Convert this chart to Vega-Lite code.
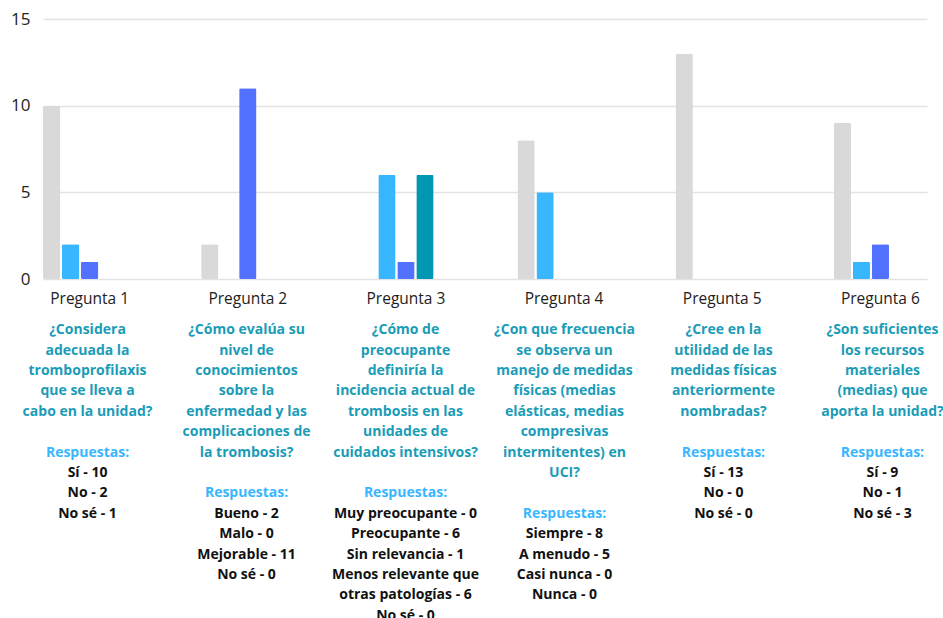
{
  "$schema": "https://vega.github.io/schema/vega-lite/v6.json",
  "padding": {"left": 10, "top": 10, "right": 0, "bottom": 0},
  "background": "white",
  "config": {"view": {"stroke": null}, "font": "Open Sans"},
  "spacing": 13,
  "resolve": {"scale": {"x": "independent", "color": "independent"}},
  "datasets": {
    "barras": [
      {"pregunta": "Pregunta 1", "opcion": "Opción 1", "valor": 10},
      {"pregunta": "Pregunta 1", "opcion": "Opción 2", "valor": 2},
      {"pregunta": "Pregunta 1", "opcion": "Opción 3", "valor": 1},
      {"pregunta": "Pregunta 2", "opcion": "Opción 1", "valor": 2},
      {"pregunta": "Pregunta 2", "opcion": "Opción 2", "valor": 0},
      {"pregunta": "Pregunta 2", "opcion": "Opción 3", "valor": 11},
      {"pregunta": "Pregunta 2", "opcion": "Opción 4", "valor": 0},
      {"pregunta": "Pregunta 3", "opcion": "Opción 1", "valor": 0},
      {"pregunta": "Pregunta 3", "opcion": "Opción 2", "valor": 6},
      {"pregunta": "Pregunta 3", "opcion": "Opción 3", "valor": 1},
      {"pregunta": "Pregunta 3", "opcion": "Opción 4", "valor": 6},
      {"pregunta": "Pregunta 3", "opcion": "Opción 5", "valor": 0},
      {"pregunta": "Pregunta 4", "opcion": "Opción 1", "valor": 8},
      {"pregunta": "Pregunta 4", "opcion": "Opción 2", "valor": 5},
      {"pregunta": "Pregunta 4", "opcion": "Opción 3", "valor": 0},
      {"pregunta": "Pregunta 4", "opcion": "Opción 4", "valor": 0},
      {"pregunta": "Pregunta 5", "opcion": "Opción 1", "valor": 13},
      {"pregunta": "Pregunta 5", "opcion": "Opción 2", "valor": 0},
      {"pregunta": "Pregunta 5", "opcion": "Opción 3", "valor": 0},
      {"pregunta": "Pregunta 6", "opcion": "Opción 1", "valor": 9},
      {"pregunta": "Pregunta 6", "opcion": "Opción 2", "valor": 1},
      {"pregunta": "Pregunta 6", "opcion": "Opción 3", "valor": 2}
    ],
    "textos": [
      {"pregunta": "Pregunta 1", "linea": 0, "tipo": "pregunta", "texto": "¿Considera"},
      {"pregunta": "Pregunta 1", "linea": 1, "tipo": "pregunta", "texto": "adecuada la"},
      {"pregunta": "Pregunta 1", "linea": 2, "tipo": "pregunta", "texto": "tromboprofilaxis"},
      {"pregunta": "Pregunta 1", "linea": 3, "tipo": "pregunta", "texto": "que se lleva a"},
      {"pregunta": "Pregunta 1", "linea": 4, "tipo": "pregunta", "texto": "cabo en la unidad?"},
      {"pregunta": "Pregunta 1", "linea": 6, "tipo": "encabezado", "texto": "Respuestas:"},
      {"pregunta": "Pregunta 1", "linea": 7, "tipo": "respuesta", "texto": "Sí - 10"},
      {"pregunta": "Pregunta 1", "linea": 8, "tipo": "respuesta", "texto": "No - 2"},
      {"pregunta": "Pregunta 1", "linea": 9, "tipo": "respuesta", "texto": "No sé - 1"},

      {"pregunta": "Pregunta 2", "linea": 0, "tipo": "pregunta", "texto": "¿Cómo evalúa su"},
      {"pregunta": "Pregunta 2", "linea": 1, "tipo": "pregunta", "texto": "nivel de"},
      {"pregunta": "Pregunta 2", "linea": 2, "tipo": "pregunta", "texto": "conocimientos"},
      {"pregunta": "Pregunta 2", "linea": 3, "tipo": "pregunta", "texto": "sobre la"},
      {"pregunta": "Pregunta 2", "linea": 4, "tipo": "pregunta", "texto": "enfermedad y las"},
      {"pregunta": "Pregunta 2", "linea": 5, "tipo": "pregunta", "texto": "complicaciones de"},
      {"pregunta": "Pregunta 2", "linea": 6, "tipo": "pregunta", "texto": "la trombosis?"},
      {"pregunta": "Pregunta 2", "linea": 8, "tipo": "encabezado", "texto": "Respuestas:"},
      {"pregunta": "Pregunta 2", "linea": 9, "tipo": "respuesta", "texto": "Bueno - 2"},
      {"pregunta": "Pregunta 2", "linea": 10, "tipo": "respuesta", "texto": "Malo - 0"},
      {"pregunta": "Pregunta 2", "linea": 11, "tipo": "respuesta", "texto": "Mejorable - 11"},
      {"pregunta": "Pregunta 2", "linea": 12, "tipo": "respuesta", "texto": "No sé - 0"},

      {"pregunta": "Pregunta 3", "linea": 0, "tipo": "pregunta", "texto": "¿Cómo de"},
      {"pregunta": "Pregunta 3", "linea": 1, "tipo": "pregunta", "texto": "preocupante"},
      {"pregunta": "Pregunta 3", "linea": 2, "tipo": "pregunta", "texto": "definiría la"},
      {"pregunta": "Pregunta 3", "linea": 3, "tipo": "pregunta", "texto": "incidencia actual de"},
      {"pregunta": "Pregunta 3", "linea": 4, "tipo": "pregunta", "texto": "trombosis en las"},
      {"pregunta": "Pregunta 3", "linea": 5, "tipo": "pregunta", "texto": "unidades de"},
      {"pregunta": "Pregunta 3", "linea": 6, "tipo": "pregunta", "texto": "cuidados intensivos?"},
      {"pregunta": "Pregunta 3", "linea": 8, "tipo": "encabezado", "texto": "Respuestas:"},
      {"pregunta": "Pregunta 3", "linea": 9, "tipo": "respuesta", "texto": "Muy preocupante - 0"},
      {"pregunta": "Pregunta 3", "linea": 10, "tipo": "respuesta", "texto": "Preocupante - 6"},
      {"pregunta": "Pregunta 3", "linea": 11, "tipo": "respuesta", "texto": "Sin relevancia - 1"},
      {"pregunta": "Pregunta 3", "linea": 12, "tipo": "respuesta", "texto": "Menos relevante que"},
      {"pregunta": "Pregunta 3", "linea": 13, "tipo": "respuesta", "texto": "otras patologías - 6"},
      {"pregunta": "Pregunta 3", "linea": 14, "tipo": "respuesta", "texto": "No sé - 0"},

      {"pregunta": "Pregunta 4", "linea": 0, "tipo": "pregunta", "texto": "¿Con que frecuencia"},
      {"pregunta": "Pregunta 4", "linea": 1, "tipo": "pregunta", "texto": "se observa un"},
      {"pregunta": "Pregunta 4", "linea": 2, "tipo": "pregunta", "texto": "manejo de medidas"},
      {"pregunta": "Pregunta 4", "linea": 3, "tipo": "pregunta", "texto": "físicas (medias"},
      {"pregunta": "Pregunta 4", "linea": 4, "tipo": "pregunta", "texto": "elásticas, medias"},
      {"pregunta": "Pregunta 4", "linea": 5, "tipo": "pregunta", "texto": "compresivas"},
      {"pregunta": "Pregunta 4", "linea": 6, "tipo": "pregunta", "texto": "intermitentes) en"},
      {"pregunta": "Pregunta 4", "linea": 7, "tipo": "pregunta", "texto": "UCI?"},
      {"pregunta": "Pregunta 4", "linea": 9, "tipo": "encabezado", "texto": "Respuestas:"},
      {"pregunta": "Pregunta 4", "linea": 10, "tipo": "respuesta", "texto": "Siempre - 8"},
      {"pregunta": "Pregunta 4", "linea": 11, "tipo": "respuesta", "texto": "A menudo - 5"},
      {"pregunta": "Pregunta 4", "linea": 12, "tipo": "respuesta", "texto": "Casi nunca - 0"},
      {"pregunta": "Pregunta 4", "linea": 13, "tipo": "respuesta", "texto": "Nunca - 0"},

      {"pregunta": "Pregunta 5", "linea": 0, "tipo": "pregunta", "texto": "¿Cree en la"},
      {"pregunta": "Pregunta 5", "linea": 1, "tipo": "pregunta", "texto": "utilidad de las"},
      {"pregunta": "Pregunta 5", "linea": 2, "tipo": "pregunta", "texto": "medidas físicas"},
      {"pregunta": "Pregunta 5", "linea": 3, "tipo": "pregunta", "texto": "anteriormente"},
      {"pregunta": "Pregunta 5", "linea": 4, "tipo": "pregunta", "texto": "nombradas?"},
      {"pregunta": "Pregunta 5", "linea": 6, "tipo": "encabezado", "texto": "Respuestas:"},
      {"pregunta": "Pregunta 5", "linea": 7, "tipo": "respuesta", "texto": "Sí - 13"},
      {"pregunta": "Pregunta 5", "linea": 8, "tipo": "respuesta", "texto": "No - 0"},
      {"pregunta": "Pregunta 5", "linea": 9, "tipo": "respuesta", "texto": "No sé - 0"},

      {"pregunta": "Pregunta 6", "linea": 0, "tipo": "pregunta", "texto": "¿Son suficientes"},
      {"pregunta": "Pregunta 6", "linea": 1, "tipo": "pregunta", "texto": "los recursos"},
      {"pregunta": "Pregunta 6", "linea": 2, "tipo": "pregunta", "texto": "materiales"},
      {"pregunta": "Pregunta 6", "linea": 3, "tipo": "pregunta", "texto": "(medias) que"},
      {"pregunta": "Pregunta 6", "linea": 4, "tipo": "pregunta", "texto": "aporta la unidad?"},
      {"pregunta": "Pregunta 6", "linea": 6, "tipo": "encabezado", "texto": "Respuestas:"},
      {"pregunta": "Pregunta 6", "linea": 7, "tipo": "respuesta", "texto": "Sí - 9"},
      {"pregunta": "Pregunta 6", "linea": 8, "tipo": "respuesta", "texto": "No - 1"},
      {"pregunta": "Pregunta 6", "linea": 9, "tipo": "respuesta", "texto": "No sé - 3"}
    ]
  },
  "vconcat": [
    {
      "width": 884,
      "height": 260,
      "data": {"name": "barras"},
      "mark": {"type": "bar", "cornerRadius": 1.5},
      "encoding": {
        "x": {
          "field": "pregunta",
          "type": "nominal",
          "scale": {"paddingInner": 0.41, "paddingOuter": 0},
          "axis": {"title": null, "labelAngle": 0, "domain": false, "ticks": false, "labelPadding": 12, "labelFontSize": 15.5, "labelColor": "#222222", "labelFont": "Open Sans"}
        },
        "xOffset": {
          "field": "opcion",
          "type": "nominal",
          "scale": {"domain": ["Opción 1", "Opción 2", "Opción 3", "Opción 4", "Opción 5"], "paddingInner": 0.09, "paddingOuter": 0}
        },
        "y": {
          "field": "valor",
          "type": "quantitative",
          "scale": {"domain": [0, 15], "nice": false},
          "axis": {"title": null, "values": [0, 5, 10, 15], "domain": false, "ticks": false, "labelPadding": 13, "labelFontSize": 17, "labelColor": "#222222", "gridColor": "#e3e3e3", "gridWidth": 1.5, "labelFont": "Open Sans"}
        },
        "color": {
          "field": "opcion",
          "type": "nominal",
          "scale": {"domain": ["Opción 1", "Opción 2", "Opción 3", "Opción 4", "Opción 5"], "range": ["#d9d9d9", "#38b6ff", "#5271ff", "#0097b2", "#7ed957"]},
          "legend": null
        }
      }
    },
    {
      "width": 884,
      "height": 306,
      "data": {"name": "textos"},
      "mark": {"type": "text", "fontWeight": "bold", "fontSize": 14, "font": "Open Sans", "align": "center", "baseline": "middle"},
      "encoding": {
        "x": {
          "field": "pregunta",
          "type": "nominal",
          "scale": {"type": "point", "padding": 0.28},
          "axis": null
        },
        "y": {
          "field": "linea",
          "type": "quantitative",
          "scale": {"domain": [-0.5, 14.5], "reverse": true, "nice": false, "zero": false},
          "axis": null
        },
        "text": {"field": "texto"},
        "color": {
          "field": "tipo",
          "type": "nominal",
          "scale": {"domain": ["pregunta", "encabezado", "respuesta"], "range": ["#1a9cb8", "#38b6ff", "#111111"]},
          "legend": null
        }
      }
    }
  ]
}
